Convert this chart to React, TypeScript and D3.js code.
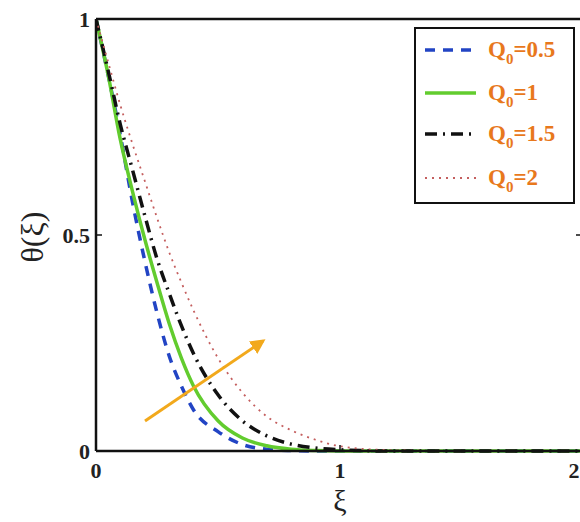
import React from "react";
import * as d3 from "d3";

const xiGrid = [0, 0.05, 0.1, 0.15, 0.2, 0.25, 0.3, 0.35, 0.4, 0.5, 0.6, 0.7, 0.8, 0.9, 1.0, 1.2, 1.5, 2.0];
const thetaQ05 = [1, 0.87, 0.73, 0.575, 0.44, 0.32, 0.22, 0.15, 0.095, 0.045, 0.015, 0.004, 0.001, 0, 0, 0, 0, 0];
const thetaQ1 = [1, 0.87, 0.72, 0.6, 0.49, 0.39, 0.295, 0.215, 0.15, 0.07, 0.03, 0.012, 0.004, 0.001, 0, 0, 0, 0];
const thetaQ15 = [1, 0.88, 0.755, 0.65, 0.545, 0.445, 0.365, 0.29, 0.225, 0.13, 0.07, 0.035, 0.016, 0.007, 0.003, 0, 0, 0];
const thetaQ2 = [1, 0.9, 0.8, 0.71, 0.625, 0.54, 0.46, 0.39, 0.325, 0.215, 0.135, 0.08, 0.048, 0.026, 0.011, 0.002, 0, 0];

const seriesLabels = ["=0.5", "=1", "=1.5", "=2"];
const xTicks = [0, 1, 2];
const yTicks = [0, 0.5, 1];

const styles = [
  { color: "#2244c4", width: 3.5, dash: "10,8" },
  { color: "#62cc2e", width: 3.5, dash: "" },
  { color: "#111111", width: 3.5, dash: "12,6,2,6" },
  { color: "#c45e5e", width: 1.8, dash: "2,5" },
];

export default function App() {
  const W = 580, H = 522;
  const L = 96, R = 584, T = 19, B = 451;
  const x = d3.scaleLinear().domain([0, 2]).range([L, R]);
  const y = d3.scaleLinear().domain([0, 1]).range([B, T]);
  const all = [thetaQ05, thetaQ1, thetaQ15, thetaQ2];
  const line = d3
    .line<number>()
    .x((_, i) => x(xiGrid[i]))
    .y((d) => y(d))
    .curve(d3.curveMonotoneX);
  const font = "'Liberation Serif', 'DejaVu Serif', serif";
  const legendRows = [50, 93, 134, 178];
  const orange = "#e8781c";
  return (
    <svg width={W} height={H} style={{ position: "absolute", left: 0, top: 0, background: "#fff" }}>
      <defs>
        <clipPath id="plot">
          <rect x={L} y={T - 2} width={R - L} height={B - T + 4} />
        </clipPath>
        <marker id="ah" viewBox="0 0 10 10" refX="8" refY="5" markerWidth="5" markerHeight="5" orient="auto">
          <path d="M0,0 L10,5 L0,10 z" fill="#f2a91c" />
        </marker>
      </defs>
      <g clipPath="url(#plot)">
        {all.map((vals, k) => (
          <path
            key={k}
            d={line(vals) || ""}
            fill="none"
            stroke={styles[k].color}
            strokeWidth={styles[k].width}
            strokeDasharray={styles[k].dash}
          />
        ))}
      </g>
      {/* frame */}
      <line x1={L} y1={T} x2={W} y2={T} stroke="#111" strokeWidth={2.5} />
      <line x1={L} y1={T} x2={L} y2={B} stroke="#111" strokeWidth={2.5} />
      <line x1={L} y1={B} x2={W} y2={B} stroke="#111" strokeWidth={2.5} />
      {/* ticks */}
      {yTicks.map((t) => (
        <g key={"y" + t}>
          <line x1={L} x2={L + 6} y1={y(t)} y2={y(t)} stroke="#111" strokeWidth={1.5} />
          <line x1={W - 4} x2={W} y1={y(t)} y2={y(t)} stroke="#111" strokeWidth={1.5} />
          <text
            x={L - 6}
            y={y(t)}
            textAnchor="end"
            dominantBaseline="central"
            fontFamily={font}
            fontWeight="bold"
            fontSize={22}
            fill="#222"
          >
            {t === 0.5 ? "0.5" : String(t)}
          </text>
        </g>
      ))}
      {xTicks.map((t) => (
        <g key={"x" + t}>
          <line x1={x(t)} x2={x(t)} y1={B} y2={B - 6} stroke="#111" strokeWidth={1.5} />
          <text
            x={Math.min(x(t), W - 6)}
            y={B + 27}
            textAnchor="middle"
            fontFamily={font}
            fontWeight="bold"
            fontSize={22}
            fill="#222"
          >
            {String(t)}
          </text>
        </g>
      ))}
      {/* axis labels */}
      <text x={x(1)} y={511} textAnchor="middle" fontFamily={font} fontSize={30} fill="#222">
        ξ
      </text>
      <text
        transform={`translate(43, ${y(0.5) + 2}) rotate(-90)`}
        textAnchor="middle"
        fontFamily={font}
        fontSize={32}
        fill="#222"
      >
        θ(ξ)
      </text>
      {/* arrow */}
      <line x1={145} y1={421} x2={263} y2={341} stroke="#f2a91c" strokeWidth={3} markerEnd="url(#ah)" />
      {/* legend */}
      <rect x={415} y={28} width={159} height={175} fill="#fff" stroke="#111" strokeWidth={2} />
      {legendRows.map((ry, k) => (
        <g key={"l" + k}>
          <line
            x1={425}
            x2={476}
            y1={ry}
            y2={ry}
            stroke={styles[k].color}
            strokeWidth={styles[k].width}
            strokeDasharray={styles[k].dash}
          />
          <text x={488} y={ry + 7} fontFamily={font} fontWeight="bold" fontSize={23} fill={orange}>
            Q
            <tspan fontSize={15} dy={7}>0</tspan>
            <tspan dy={-7}>{seriesLabels[k]}</tspan>
          </text>
        </g>
      ))}
    </svg>
  );
}
